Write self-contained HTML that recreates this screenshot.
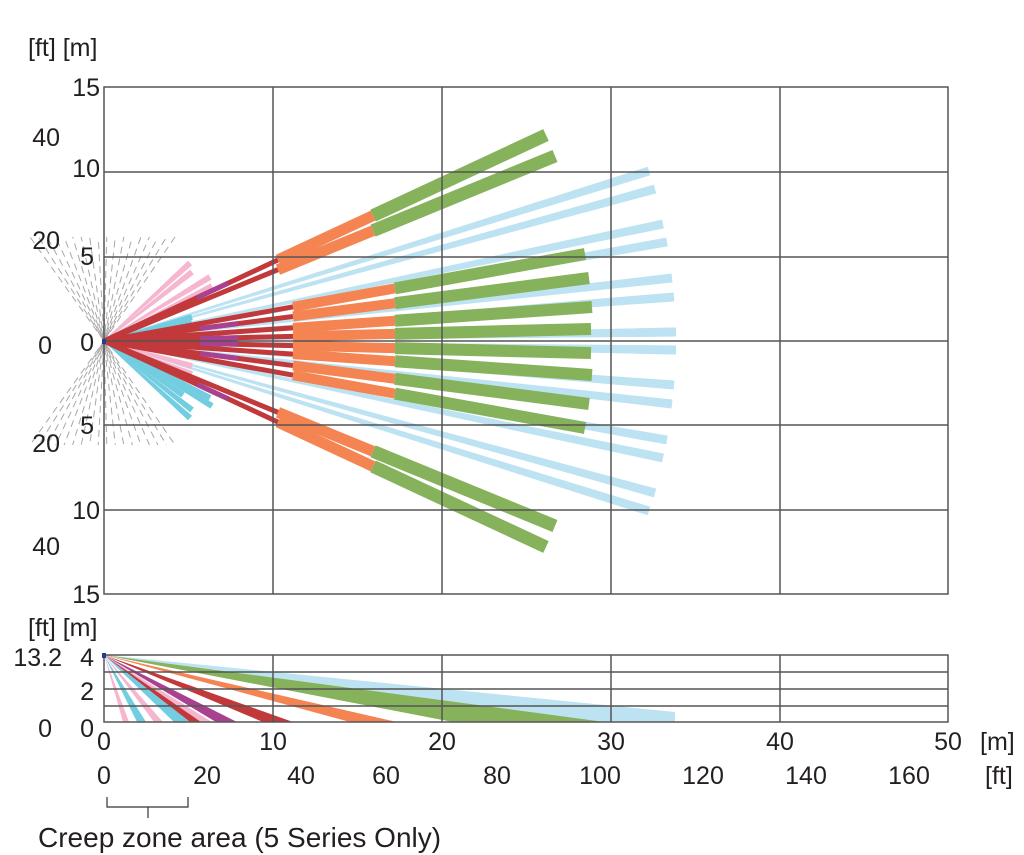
<!DOCTYPE html>
<html><head><meta charset="utf-8"><style>
html,body{margin:0;padding:0;background:#fff;}
svg{display:block;}
text{font-family:"Liberation Sans Narrow","Liberation Sans",sans-serif;fill:#231f20;}
</style></head><body>
<svg id="s" width="1024" height="855" viewBox="0 0 1024 855" xmlns="http://www.w3.org/2000/svg">
<g id="dash"></g>
<g id="beams"></g>
<g id="grid" stroke="#555" stroke-width="1.5" fill="none">
<rect x="104" y="87" width="844" height="507"/>
<line x1="273" y1="87" x2="273" y2="594"/><line x1="442" y1="87" x2="442" y2="594"/>
<line x1="611" y1="87" x2="611" y2="594"/><line x1="780" y1="87" x2="780" y2="594"/>
<line x1="104" y1="172" x2="948" y2="172"/><line x1="104" y1="257" x2="948" y2="257"/>
<line x1="104" y1="341" x2="948" y2="341"/><line x1="104" y1="425" x2="948" y2="425"/>
<line x1="104" y1="510" x2="948" y2="510"/>
</g>
<g id="bot"></g>
<g stroke="#555" stroke-width="1.5" fill="none">
<rect x="104" y="655" width="844" height="67"/>
<line x1="273" y1="655" x2="273" y2="722"/><line x1="442" y1="655" x2="442" y2="722"/>
<line x1="611" y1="655" x2="611" y2="722"/><line x1="780" y1="655" x2="780" y2="722"/>
<line x1="104" y1="672" x2="948" y2="672"/><line x1="104" y1="689" x2="948" y2="689"/><line x1="104" y1="706" x2="948" y2="706"/>
</g>
<rect x="102" y="653" width="4" height="5" fill="#2b3990"/>
<rect x="102" y="339" width="4" height="5" fill="#2b3990"/>
<g font-size="25">
<text x="28" y="56">[ft] [m]</text>
<text x="100" y="96" text-anchor="end">15</text>
<text x="100" y="177" text-anchor="end">10</text>
<text x="94" y="265" text-anchor="end">5</text>
<text x="94" y="351" text-anchor="end">0</text>
<text x="94" y="434" text-anchor="end">5</text>
<text x="100" y="519" text-anchor="end">10</text>
<text x="100" y="603" text-anchor="end">15</text>
<text x="60" y="146" text-anchor="end">40</text>
<text x="60" y="249" text-anchor="end">20</text>
<text x="52" y="354" text-anchor="end">0</text>
<text x="60" y="452" text-anchor="end">20</text>
<text x="60" y="555" text-anchor="end">40</text>
<text x="28" y="636">[ft] [m]</text>
<text x="62" y="666" text-anchor="end">13.2</text>
<text x="94" y="666" text-anchor="end">4</text>
<text x="94" y="700" text-anchor="end">2</text>
<text x="52" y="737" text-anchor="end">0</text>
<text x="94" y="737" text-anchor="end">0</text>
<text x="104" y="750" text-anchor="middle">0</text>
<text x="273" y="750" text-anchor="middle">10</text>
<text x="442" y="750" text-anchor="middle">20</text>
<text x="611" y="750" text-anchor="middle">30</text>
<text x="780" y="750" text-anchor="middle">40</text>
<text x="948" y="750" text-anchor="middle">50</text>
<text x="980" y="750">[m]</text>
<text x="104" y="784" text-anchor="middle">0</text>
<text x="207" y="784" text-anchor="middle">20</text>
<text x="301" y="784" text-anchor="middle">40</text>
<text x="386" y="784" text-anchor="middle">60</text>
<text x="497" y="784" text-anchor="middle">80</text>
<text x="600" y="784" text-anchor="middle">100</text>
<text x="703" y="784" text-anchor="middle">120</text>
<text x="806" y="784" text-anchor="middle">140</text>
<text x="909" y="784" text-anchor="middle">160</text>
<text x="985" y="784">[ft]</text>
<text x="38" y="847" font-size="28">Creep zone area (5 Series Only)</text>
</g>
<path d="M107 797 V807 H188 V797 M148 807 V818" stroke="#333" stroke-width="1.2" fill="none"/>
</svg>
<script>
var NS="http://www.w3.org/2000/svg";
function el(p,t,a){var e=document.createElementNS(NS,t);for(var k in a)e.setAttribute(k,a[k]);document.getElementById(p).appendChild(e);return e;}
var OX=104,OY=341;
var R="#c1393a",O="#f58453",G="#86b25c",LB="#bde3f3",PK="#f6b6cf",CY="#72cde0",PU="#a8418f";
function yat(ex,ey,x){return OY+(ey-OY)*(x-OX)/(ex-OX);}
function seg(ex,ey,x0,x1,c,w){el("beams","line",{x1:x0,y1:yat(ex,ey,x0),x2:x1,y2:yat(ex,ey,x1),stroke:c,"stroke-width":w});}
function taper(ex,ey,x0,w0,w1,c){
 var dx=ex-OX,dy=ey-OY,L=Math.hypot(dx,dy),nx=-dy/L,ny=dx/L;
 var sx=x0,sy=yat(ex,ey,x0);
 var pts=[[sx+nx*w0/2,sy+ny*w0/2],[ex+nx*w1/2,ey+ny*w1/2],[ex-nx*w1/2,ey-ny*w1/2],[sx-nx*w0/2,sy-ny*w0/2]];
 el("beams","polygon",{points:pts.map(p=>p.join(",")).join(" "),fill:c});}
// dashed gray fans
for(var i=0;i<18;i++){
 var t=i/17; var ex=30+t*145;
 [237,445].forEach(function(ey,j){el("dash","line",{x1:OX,y1:OY,x2:ex,y2:ey,stroke:"#a8a8a8","stroke-width":1,"stroke-dasharray":"7,5","stroke-dashoffset":((i*5+j*3)%12)});});
}
// light blue
[[649,171],[655,189],[663,224],[667,242],[672,278],[674,297],[676,332],[676,350]].forEach(function(p){
 taper(p[0],p[1],120,1.5,9,LB);
 taper(p[0],682-p[1],120,1.5,9,LB);});
// short beams
[[190,263,PK],[192,272,PK],[210,277,PK],[212,286,PK],[192,317,CY],[192,323,CY],[192,366,PK],[192,374,PK],[190,418,CY],[192,410,CY],[210,398,CY],[212,406,CY],[183,395,CY]].forEach(function(p){
 taper(p[0],p[1],106,1,6,p[2]);});
// mid green beams
[[585,254],[589,278],[592,307],[591,329]].forEach(function(p,i){
 [p[1],682-p[1]].forEach(function(ey){
  seg(p[0],ey,OX,293,R,5);
  if(i==1||i==3) seg(p[0],ey,200,238,PU,5);
  taper(p[0],ey,293,9,0,"none");
  seg(p[0],ey,293,395,O,10);
  seg(p[0],ey,395,p[0],G,12);});});
// outer green beams
[[546,135],[555,156]].forEach(function(p,i){
 [p[1],682-p[1]].forEach(function(ey){
  seg(p[0],ey,OX,278,R,5);
  if(i==0) seg(p[0],ey,197,228,PU,5);
  seg(p[0],ey,278,373,O,11);
  seg(p[0],ey,373,p[0],G,13);});});
// bottom chart
function tri(a,b,c){el("bot","polygon",{points:"104,655 "+b+",722 "+a+",722",fill:c});}
el("bot","polygon",{points:"104,655 675,712 675,722 605,722",fill:LB});
tri(453,605,G);tri(350,397,O);tri(263,293,R);tri(216,237,PU);tri(201,212,PK);tri(190,201,R);
tri(174,190,CY);tri(154,163,PK);tri(137,146,CY);tri(123,129,PK);
</script>
</body></html>
